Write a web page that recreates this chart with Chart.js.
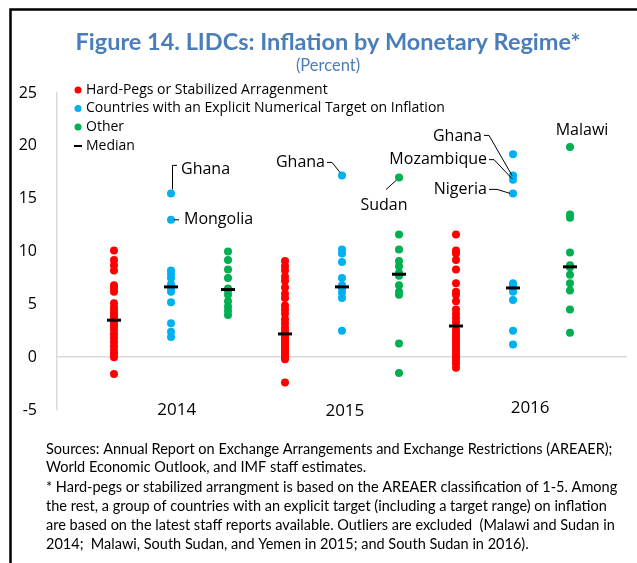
<!DOCTYPE html>
<html>
<head>
<meta charset="utf-8">
<script src="https://cdn.jsdelivr.net/npm/chart.js@4"></script>
<style>
  html, body { margin: 0; padding: 0; background: #fff; }
  #wrap { position: relative; width: 637px; height: 563px; }
  canvas { display: block; }
</style>
</head>
<body>
<div id="wrap"><canvas id="c" width="637" height="563"></canvas></div>
<script>
// ---------- data ----------
const categories = ['2014', '2015', '2016'];
const seriesNames = [
  'Hard-Pegs or Stabilized Arragenment',
  'Countries with an Explicit Numerical Target on Inflation',
  'Other'
];
const medianLabel = 'Median';

const hardPegs2014 = [10.1, 9.2, 8.7, 8.2, 6.8, 6.5, 6.2, 5.1, 4.7, 4.4, 4.1, 3.8, 3.5, 3.2, 2.9, 2.6, 2.2, 1.8, 1.4, 1.0, 0.6, 0.3, 0.0, -1.6];
const hardPegs2015 = [9.1, 8.6, 8.2, 7.6, 7.2, 6.6, 6.0, 5.6, 4.9, 4.5, 4.1, 3.6, 3.2, 2.8, 2.5, 2.2, 1.9, 1.7, 1.5, 1.3, 1.1, 0.9, 0.7, 0.5, 0.3, 0.1, 0.0, -0.2, -2.4];
const hardPegs2016 = [11.6, 10.1, 9.8, 9.2, 8.3, 7.0, 6.2, 5.9, 5.3, 4.5, 4.1, 3.7, 3.3, 2.6, 2.3, 2.0, 1.7, 1.4, 1.1, 0.8, 0.5, 0.2, 0.0, -0.3, -0.6, -1.0];

const target2014 = [15.5, 13.0, 8.2, 7.9, 7.5, 6.9, 6.5, 6.2, 5.2, 3.2, 2.4, 1.9];
const target2015 = [17.2, 10.2, 9.8, 9.0, 7.5, 6.8, 6.5, 6.1, 5.6, 2.5];
const target2016 = [19.2, 17.2, 16.8, 15.5, 7.0, 6.8, 6.6, 6.2, 5.4, 2.5, 1.2];

const other2014 = [10.0, 9.2, 8.3, 7.5, 6.5, 6.3, 5.9, 5.3, 4.8, 4.4, 4.0];
const other2015 = [17.0, 11.6, 10.2, 9.1, 8.6, 8.0, 7.7, 6.8, 6.2, 5.9, 1.3, -1.5];
const other2016 = [19.9, 13.5, 13.2, 9.9, 8.7, 8.5, 7.8, 7.0, 6.3, 4.5, 2.3];

const hardPegsMedian = [3.5, 2.2, 2.95];
const targetMedian = [6.65, 6.65, 6.55];
const otherMedian = [6.4, 7.85, 8.55];

const yTickValues = [-5, 0, 5, 10, 15, 20, 25];

// labelled outliers: [name, year index, series index, value]
const outlierLabels = [
  ['Ghana', 0, 1, 15.5],
  ['Mongolia', 0, 1, 13.0],
  ['Ghana', 1, 1, 17.2],
  ['Sudan', 1, 2, 17.0],
  ['Ghana', 2, 1, 17.2],
  ['Mozambique', 2, 1, 16.8],
  ['Nigeria', 2, 1, 15.5],
  ['Malawi', 2, 2, 19.9]
];

const titleText = 'Figure 14. LIDCs: Inflation by Monetary Regime*';
const subtitleText = '(Percent)';
const footnoteLines = [
  'Sources: Annual Report on Exchange Arrangements and Exchange Restrictions (AREAER);',
  'World Economic Outlook, and IMF staff estimates.',
  '* Hard-pegs or stabilized arrangment is based on the AREAER classification of 1-5. Among',
  'the rest, a group of countries with an explicit target (including a target range) on inflation',
  'are based on the latest staff reports available. Outliers are excluded  (Malawi and Sudan in',
  '2014;  Malawi, South Sudan, and Yemen in 2015; and South Sudan in 2016).'
];

// ---------- build ----------
const seriesByYear = [
  [hardPegs2014, hardPegs2015, hardPegs2016],
  [target2014, target2015, target2016],
  [other2014, other2015, other2016]
];
const mediansBySeries = [hardPegsMedian, targetMedian, otherMedian];
const colors = ['#FF0000', '#00B0F0', '#00B050'];

function slot(yearIdx, seriesIdx) { return yearIdx * 3 + seriesIdx + 1; }

const datasets = seriesNames.map((name, s) => ({
  label: name,
  data: seriesByYear[s].flatMap((vals, yi) => vals.map(v => ({ x: slot(yi, s), y: v }))),
  backgroundColor: colors[s],
  borderWidth: 0,
  pointRadius: 4,
  pointHoverRadius: 4,
  order: 2
}));
datasets.push({
  label: medianLabel,
  data: mediansBySeries.flatMap((arr, s) => arr.map((v, yi) => ({ x: slot(yi, s), y: v }))),
  pointStyle: 'line',
  pointRadius: 7,
  pointHoverRadius: 7,
  borderColor: '#000',
  backgroundColor: '#000',
  borderWidth: 3,
  order: 0
});

const FONT = '"Open Sans", "DejaVu Sans", sans-serif';
const FONT2 = 'Lato, "Open Sans", sans-serif';

// leader line / text placement relative to the point pixel
const labelStyle = [
  { text: [10, -24, 'left'], path: [[1.5, -4], [1.5, -28], [6, -28]] },
  { text: [13, 0, 'left'], path: [[3, 0], [8, 0]] },
  { text: [-17, -13, 'right'], path: [[-15, -13], [-10, -13], [-2, -3]] },
  { text: [-15, 28, 'center'], path: [[-3, 3], [-13, 12]] },
  { text: [-31, -39, 'right'], path: [[-29, -40], [-24, -40], [-1, 0]] },
  { text: [-26, -20, 'right'], path: [[-24, -20], [-19, -20], [-1, -1]] },
  { text: [-26, -4, 'right'], path: [[-24, -4], [-16, -4], [-3, 0]] },
  { text: [12, -16, 'center'], path: [] }
];
const yearLabelX = [2.1, 5.05, 8.3];
const yearLabelDy = [0, 1, -2];

const decor = {
  id: 'decor',
  afterDraw(chart) {
    const ctx = chart.ctx;
    const xs = chart.scales.x, ys = chart.scales.y;
    ctx.save();
    // frame
    ctx.strokeStyle = '#000';
    ctx.lineWidth = 2.5;
    ctx.beginPath();
    ctx.moveTo(10.5, 563); ctx.lineTo(10.5, 9.5); ctx.lineTo(637, 9.5);
    ctx.stroke();

    // title
    ctx.fillStyle = '#4A7EBB';
    ctx.textAlign = 'center';
    ctx.textBaseline = 'middle';
    ctx.font = 'bold 23.5px ' + FONT2;
    ctx.fillText(titleText, 328, 42);
    ctx.font = '16.5px ' + FONT2;
    ctx.fillText(subtitleText, 328, 66);

    // legend
    ctx.textAlign = 'left';
    const legY = [90, 108.5, 127, 146];
    ctx.font = '14px ' + FONT;
    seriesNames.forEach((n, i) => {
      ctx.fillStyle = colors[i];
      ctx.beginPath(); ctx.arc(78, legY[i], 3.5, 0, Math.PI * 2); ctx.fill();
      ctx.fillStyle = '#000';
      ctx.fillText(n, 86, legY[i]);
    });
    ctx.strokeStyle = '#000'; ctx.lineWidth = 2;
    ctx.beginPath(); ctx.moveTo(74, legY[3]); ctx.lineTo(82, legY[3]); ctx.stroke();
    ctx.fillStyle = '#000';
    ctx.fillText(medianLabel, 86, legY[3]);

    // year labels
    ctx.textAlign = 'center';
    ctx.font = '17px ' + FONT;
    categories.forEach((c, i) => {
      ctx.fillText(c, xs.getPixelForValue(yearLabelX[i]), ys.bottom + yearLabelDy[i]);
    });

    // outlier labels
    ctx.font = '16px ' + FONT;
    ctx.lineWidth = 1;
    ctx.strokeStyle = '#000';
    outlierLabels.forEach((a, i) => {
      const px = xs.getPixelForValue(slot(a[1], a[2]));
      const py = ys.getPixelForValue(a[3]);
      const st = labelStyle[i];
      if (st.path.length) {
        ctx.beginPath();
        st.path.forEach((p, k) => k ? ctx.lineTo(px + p[0], py + p[1]) : ctx.moveTo(px + p[0], py + p[1]));
        ctx.stroke();
      }
      ctx.textAlign = st.text[2];
      ctx.fillText(a[0], px + st.text[0], py + st.text[1]);
    });

    // footnote
    ctx.textAlign = 'left';
    ctx.font = '14.5px ' + FONT2;
    const fy = [449, 467.5, 487, 506, 525, 544];
    footnoteLines.forEach((l, i) => ctx.fillText(l, 46, fy[i]));
    ctx.restore();
  }
};

new Chart(document.getElementById('c'), {
  type: 'scatter',
  data: { datasets },
  options: {
    responsive: false,
    animation: false,
    devicePixelRatio: 1,
    layout: { padding: { left: 0, top: 93, right: 7, bottom: 153 } },
    plugins: { legend: { display: false }, tooltip: { enabled: false }, title: { display: false } },
    scales: {
      x: { type: 'linear', min: 0, max: 10, display: false },
      y: {
        type: 'linear', min: -5, max: 25,
        afterBuildTicks: s => { s.ticks = yTickValues.map(v => ({ value: v })); },
        afterFit: s => { s.width = 57; },
        ticks: { padding: 20, color: '#000', font: { family: FONT, size: 16 } },
        grid: {
          drawTicks: false,
          color: c => (c.tick && c.tick.value === 0) ? '#D9D9D9' : 'rgba(0,0,0,0)',
          lineWidth: 1.5
        },
        border: { display: true, color: '#D9D9D9', width: 1.5 }
      }
    }
  },
  plugins: [decor]
});
</script>
</body>
</html>
